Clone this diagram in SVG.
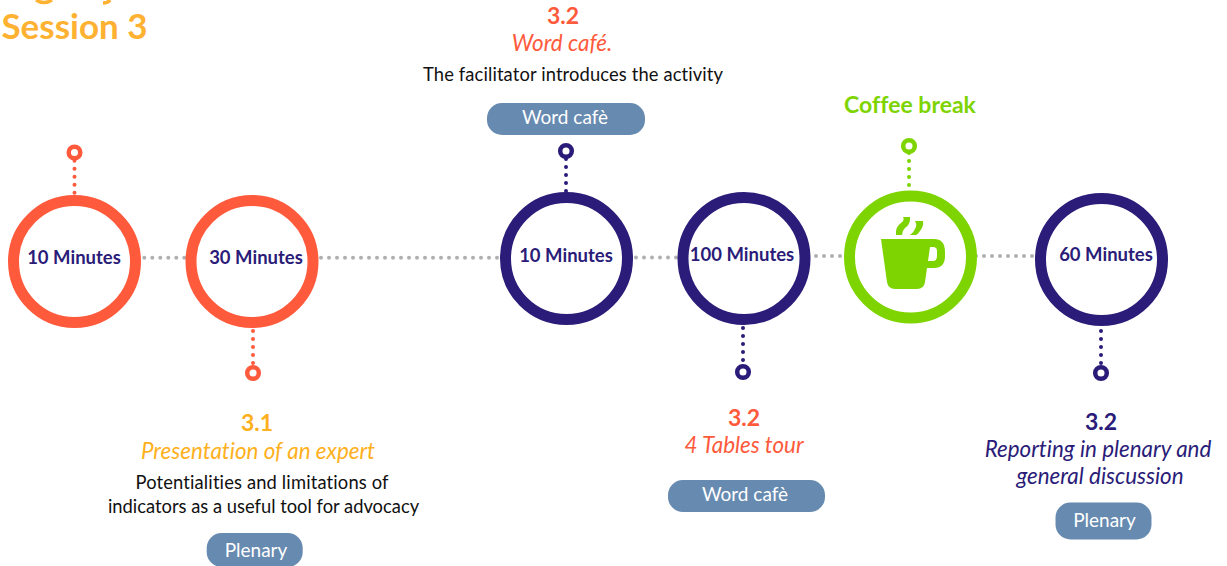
<svg xmlns="http://www.w3.org/2000/svg" width="1227" height="566" viewBox="0 0 1227 566">
<style>
text{font-family:Lato,"Noto Sans",sans-serif;text-anchor:middle;font-variant-ligatures:none}
.ring{fill:#fff;stroke-width:11}
.o{stroke:#ff5a3c}.n{stroke:#2a1c78}.g{stroke:#7ed400}
.pin{fill:#fff;stroke-width:4.500}
.dot{fill:none;stroke-width:4;stroke-linecap:round;stroke-dasharray:0 8}
.link{fill:none;stroke:#b0b0b0;stroke-width:4;stroke-linecap:round;stroke-dasharray:0 8}
.min{font-size:18.5px;font-weight:700;fill:#2a1c78}
.num{font-size:23px;font-weight:700}
.ti{font-size:22.4px;font-style:italic}
.body{font-size:18.35px;fill:#111}
.tag{fill:#678ab0}
.tagt{font-size:19px;fill:#fff}
</style>
<g id="title"><path d="M36 0Q44 5 52 0M103 3Q108 3 110 0" fill="none" stroke="#ffb132" stroke-width="3.500"/><text x="74.500" y="39" font-size="35" font-weight="700" fill="#ffb132">Session 3</text></g>
<g id="connectors">
<path class="link" d="M144.300 257.700H186M321 257.700H500M636 257.500H678M816 256H844M976 256H1036"/>
<path class="dot o" d="M74.500 160.700V195M253 331V371"/>
<path class="dot n" d="M566 159V192M743 328V370M1101 331V371"/>
<path class="dot g" d="M909 153V190"/>
</g>
<g id="n1"><circle class="ring o" cx="74.500" cy="261.500" r="61"/><circle class="pin o" cx="74.500" cy="152.500" r="5.800"/><text class="min" x="74" y="264">10 Minutes</text></g>
<g id="n2"><circle class="ring o" cx="252" cy="261.500" r="61"/><circle class="pin o" cx="253" cy="373" r="5.800"/><text class="min" x="256" y="264">30 Minutes</text>
<text class="num" x="257" y="431" fill="#ffb020">3.1</text><text class="ti" x="258" y="459" fill="#ffb020">Presentation of an expert</text>
<text class="body" x="262" y="489" textLength="253">Potentialities and limitations of</text><text class="body" x="263.500" y="513">indicators as a useful tool for advocacy</text>
<rect class="tag" x="206.700" y="533" width="96" height="34" rx="15"/><text class="tagt" x="256" y="557">Plenary</text></g>
<g id="n3"><circle class="ring n" cx="566.500" cy="258.500" r="61"/><circle class="pin n" cx="566" cy="151" r="5.800"/><text class="min" x="566" y="262">10 Minutes</text>
<text class="num" x="563" y="24" fill="#ff5a3c">3.2</text><text class="ti" x="562" y="51" fill="#ff5a3c">Word café.</text>
<text class="body" x="573" y="81" textLength="300">The facilitator introduces the activity</text>
<rect class="tag" x="487" y="103" width="158" height="32" rx="15"/><text class="tagt" x="565" y="124">Word cafè</text></g>
<g id="n4"><circle class="ring n" cx="744" cy="258.500" r="61"/><circle class="pin n" cx="743" cy="372" r="5.800"/><text class="min" x="742" y="261">100 Minutes</text>
<text class="num" x="744" y="426" fill="#ff5a3c">3.2</text><text class="ti" x="744" y="453" fill="#ff5a3c">4 Tables tour</text>
<rect class="tag" x="668" y="480" width="157" height="32" rx="15"/><text class="tagt" x="745" y="501">Word cafè</text></g>
<g id="n5"><circle class="ring g" cx="910.500" cy="257" r="61"/><circle class="pin g" cx="909" cy="146" r="5.800"/>
<text x="910" y="113" font-size="23" font-weight="700" fill="#7ed400">Coffee break</text>
<path d="M881 239H934Q945 239 945 252V256Q945 268 934 268H927L925 282Q924 289 917 289H895Q888 289 887 282ZM930 247L928 261H933Q937 261 937 256V251Q937 247 933 247Z" fill="#7ed400" fill-rule="evenodd"/>
<path d="M896 235Q895 227 901 223Q905 220 903 217H910Q911 224 905 228Q902 231 902 235ZM910 235Q914 232 916 227Q917 224 915 221H923Q924 226 920 231Q918 234 916 235Z" fill="#7ed400"/></g>
<g id="n6"><circle class="ring n" cx="1101.500" cy="259.500" r="61"/><circle class="pin n" cx="1101" cy="373" r="5.800"/><text class="min" x="1106" y="261">60 Minutes</text>
<text class="num" x="1101" y="430" fill="#2a1c78">3.2</text><text class="ti" x="1098" y="457" fill="#2a1c78">Reporting in plenary and</text><text class="ti" x="1100" y="484" fill="#2a1c78">general discussion</text>
<rect class="tag" x="1055.500" y="502.500" width="96" height="37" rx="15"/><text class="tagt" x="1104.500" y="526.500">Plenary</text></g>
</svg>
